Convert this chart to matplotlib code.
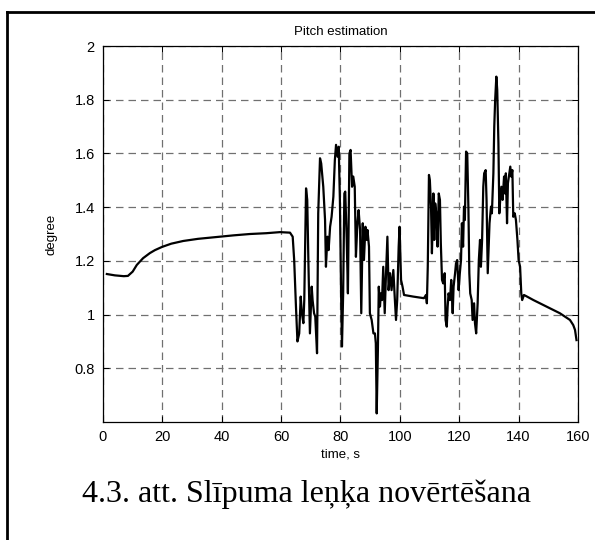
import matplotlib
matplotlib.use('Agg')
import matplotlib.pyplot as plt
from matplotlib.lines import Line2D

# pitch estimate (time in s, pitch in degrees)
time_s = [1.3, 4, 7, 8.4, 10, 11.4, 13.5, 15.8, 17.5, 19.9, 23, 27, 32, 38.4, 44, 49.5, 55, 59.6, 63,
          63.9, 64.4, 65, 65.5, 66.1, 66.6, 67, 67.5, 67.8, 68.4, 68.8, 69.2, 69.7, 70.3, 70.6, 71.1, 71.5,
          72.1, 72.5, 73.1, 73.5, 74.2, 74.8, 75.1, 75.6, 76, 76.5, 77, 77.6, 78.1, 78.5, 79, 79.4, 79.8,
          80.2, 80.5, 80.9, 81.3, 81.6, 82.1, 82.5, 83, 83.4, 83.9, 84.3, 84.8, 85.2, 85.7, 86.1, 86.6,
          87, 87.5, 87.9, 88.4, 88.8, 89.1, 89.6, 89.9, 90.5, 91.1, 91.6, 91.9, 92.2, 92.6, 92.9, 93.3,
          93.6, 94, 94.4, 94.9, 95.3, 95.8, 96.2, 96.7, 97.2, 97.8, 98.2, 98.7, 99.1, 99.6, 99.9, 100.4,
          100.9, 101.4, 104.5, 108.1, 108.8, 109.1, 109.4, 109.8, 110.1, 110.5, 110.8, 111.3, 111.6,
          111.9, 112.4, 112.7, 113.1, 113.5, 113.8, 114.2, 114.6, 115.1, 115.4, 115.8, 116.1, 116.4,
          116.9, 117.3, 117.8, 118.1, 118.6, 118.9, 119.3, 119.8, 120.2, 120.6, 120.9, 121.3, 121.6,
          121.9, 122.3, 122.7, 123.1, 123.4, 123.7, 124.2, 124.5, 125, 125.3, 125.7, 126.2, 126.6, 127,
          127.3, 127.7, 128.1, 128.4, 128.9, 129.2, 129.6, 129.9, 130.2, 130.7, 131, 131.5, 131.8, 132.1,
          132.5, 132.8, 133.2, 133.5, 133.8, 134.2, 134.6, 135.1, 135.4, 135.7, 136.1, 136.4, 136.9,
          137.2, 137.5, 137.9, 138.2, 138.7, 139.1, 139.6, 140, 140.5, 140.9, 141.2, 141.8, 142.5, 145,
          149.4, 153.9, 157.3, 158.4, 159, 159.5]
pitch = [1.151, 1.146, 1.143, 1.144, 1.16, 1.185, 1.21, 1.229, 1.24, 1.252, 1.264, 1.274, 1.282, 1.289,
         1.295, 1.30, 1.303, 1.307, 1.305,
         1.29, 1.203, 1.03, 0.90, 0.93, 1.067, 1.005, 0.968, 1.054, 1.47, 1.427, 1.19, 0.93, 1.104, 1.054,
         1.005, 0.992, 0.856, 1.377, 1.582, 1.563, 1.476, 1.352, 1.178, 1.29, 1.24, 1.327, 1.364, 1.439,
         1.575, 1.632, 1.588, 1.625, 1.427, 1.079, 0.881, 1.079, 1.451, 1.458, 1.278, 1.079, 1.600,
         1.613, 1.476, 1.514, 1.476, 1.215, 1.34, 1.389, 1.315, 1.005, 1.34, 1.203, 1.327, 1.278, 1.315,
         1.253, 1.005, 0.98, 0.93, 0.93, 0.893, 0.632, 0.868, 1.104, 1.03, 1.079, 1.054, 1.178, 1.005,
         1.141, 1.29, 1.091, 1.154, 1.091, 1.166, 1.079, 0.98, 1.054, 1.253, 1.327, 1.129, 1.104, 1.073,
         1.067, 1.061, 1.073, 1.042, 1.178, 1.52, 1.501, 1.402, 1.228, 1.451, 1.278, 1.414, 1.364, 1.253,
         1.451, 1.427, 1.265, 1.129, 1.116, 1.154, 0.98, 0.955, 1.03, 1.079, 1.054, 1.129, 1.005, 1.104,
         1.154, 1.19, 1.203, 1.091, 1.154, 1.203, 1.34, 1.253, 1.402, 1.352, 1.607, 1.6, 1.389, 1.154,
         1.079, 1.054, 0.98, 1.042, 0.968, 0.93, 1.042, 1.203, 1.278, 1.178, 1.278, 1.476, 1.526, 1.538,
         1.427, 1.154, 1.253, 1.34, 1.402, 1.377, 1.526, 1.70, 1.799, 1.886, 1.836, 1.638, 1.377, 1.427,
         1.476, 1.427, 1.514, 1.451, 1.526, 1.34, 1.489, 1.526, 1.551, 1.514, 1.538, 1.364, 1.377, 1.352,
         1.278, 1.203, 1.178, 1.079, 1.054, 1.073, 1.069, 1.054, 1.03, 1.005, 0.98, 0.961, 0.943, 0.905]

x_ticks = [0, 20, 40, 60, 80, 100, 120, 140, 160]
y_ticks = [0.8, 1, 1.2, 1.4, 1.6, 1.8, 2]
y_labels = ['0.8', '1', '1.2', '1.4', '1.6', '1.8', '2']

plt.rcParams['font.family'] = ['Liberation Sans', 'DejaVu Sans']

fig = plt.figure(figsize=(5.95, 5.4), dpi=100)
ax = fig.add_axes([0.1731, 0.2185, 0.7983, 0.6963])

ax.plot(time_s, pitch, color='black', linewidth=1.6)

ax.set_xlim(0, 160)
ax.set_ylim(0.6, 2)
ax.set_xticks(x_ticks)
ax.set_yticks(y_ticks)
ax.set_yticklabels(y_labels)
ax.tick_params(direction='in', length=4, width=0.75, labelsize=10.5, pad=6,
               top=True, right=True)
ax.grid(True, color='#707070', linestyle=(0, (6, 4)), linewidth=0.9)
for s in ax.spines.values():
    s.set_linewidth(0.9)

ax.set_title('Pitch estimation', fontsize=9.5, pad=8)
ax.set_xlabel('time, s', fontsize=9.5, labelpad=3)
ax.set_ylabel('degree', fontsize=9.5, labelpad=12)

fig.text(0.138, 0.071, '4.3. att. Slīpuma leņķa novērtēšana', fontsize=23,
         family=['Liberation Serif', 'DejaVu Serif'], ha='left', va='baseline')

# outer frame (only left and top visible)
fig.add_artist(Line2D([0.012, 0.012], [0, 0.978], transform=fig.transFigure, color='black', linewidth=2))
fig.add_artist(Line2D([0.012, 1], [0.978, 0.978], transform=fig.transFigure, color='black', linewidth=2))

fig.savefig('out.png', dpi=100)
